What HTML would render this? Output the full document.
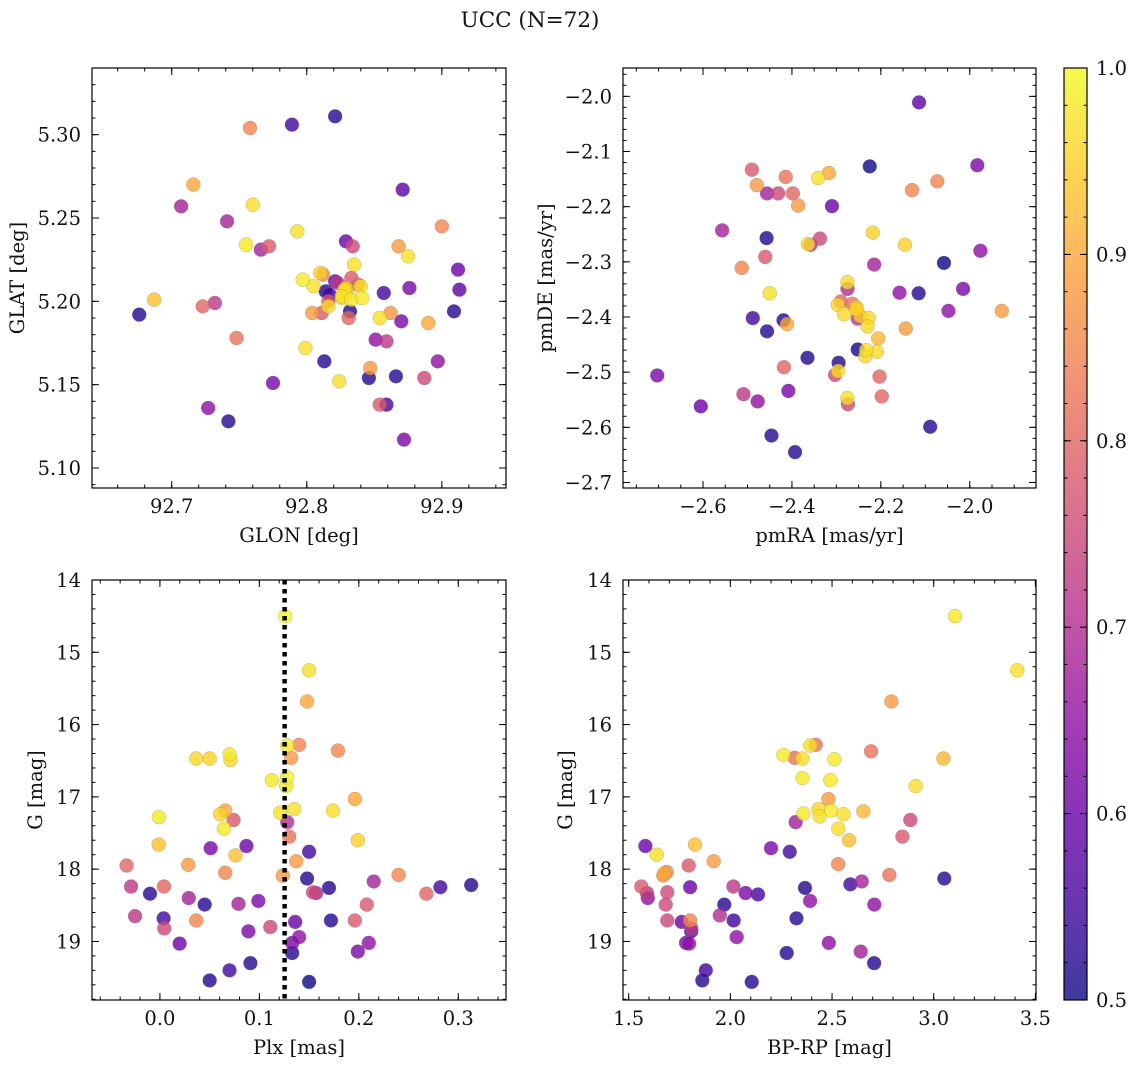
<!DOCTYPE html>
<html><head><meta charset="utf-8">
<style>
html,body{margin:0;padding:0;background:#fff;}
svg{display:block;font-family:"DejaVu Serif","Liberation Serif",serif;}
</style></head>
<body>
<svg id="fig" width="1136" height="1067" viewBox="0 0 1136 1067" xmlns="http://www.w3.org/2000/svg">
<defs>
<linearGradient id="plasma" x1="0" y1="1" x2="0" y2="0">
<stop offset="0" stop-color="#0d0887"/><stop offset="0.1" stop-color="#41049d"/><stop offset="0.2" stop-color="#6a00a8"/><stop offset="0.3" stop-color="#8f0da4"/><stop offset="0.4" stop-color="#b12a90"/><stop offset="0.5" stop-color="#cc4778"/><stop offset="0.6" stop-color="#e16462"/><stop offset="0.7" stop-color="#f2844b"/><stop offset="0.8" stop-color="#fca636"/><stop offset="0.9" stop-color="#fcce25"/><stop offset="1" stop-color="#f0f921"/>
</linearGradient>
</defs>
<text x="530" y="27" text-anchor="middle" font-size="21.5" fill="#111">UCC (N=72)</text>
</svg>
<script>
// Panel 1: GLON / GLAT
const p1Lon=[92.821,92.789,92.758,92.716,92.707,92.760,92.871,92.741,92.900,92.793,92.755,92.766,92.772,92.829,92.834,92.868,92.875,92.835,92.912,92.913,92.909,92.687,92.676,92.723,92.732,92.748,92.797,92.805,92.810,92.812,92.814,92.823,92.833,92.829,92.826,92.833,92.840,92.841,92.857,92.876,92.817,92.816,92.816,92.811,92.804,92.832,92.831,92.862,92.854,92.870,92.890,92.851,92.859,92.799,92.813,92.897,92.847,92.846,92.866,92.887,92.824,92.775,92.727,92.742,92.859,92.854,92.872,92.821,92.828,92.838,92.826,92.830];
const p1Lat=[5.311,5.306,5.304,5.270,5.257,5.258,5.267,5.248,5.245,5.242,5.234,5.231,5.233,5.236,5.233,5.233,5.227,5.222,5.219,5.207,5.194,5.201,5.192,5.197,5.199,5.178,5.213,5.209,5.217,5.216,5.206,5.211,5.214,5.208,5.202,5.201,5.209,5.202,5.205,5.208,5.204,5.200,5.197,5.193,5.193,5.194,5.190,5.193,5.190,5.188,5.187,5.177,5.176,5.172,5.164,5.164,5.160,5.154,5.155,5.154,5.152,5.151,5.136,5.128,5.138,5.138,5.117,5.212,5.207,5.210,5.203,5.205];
const p1Prob=[0.52,0.55,0.85,0.9,0.68,0.97,0.58,0.68,0.85,0.97,0.98,0.68,0.78,0.6,0.75,0.88,0.97,0.97,0.6,0.58,0.52,0.93,0.52,0.8,0.72,0.82,0.98,0.97,0.95,0.85,0.52,0.72,0.78,0.95,0.97,0.98,0.97,0.98,0.55,0.62,0.55,0.78,0.96,0.78,0.88,0.52,0.8,0.87,0.97,0.62,0.9,0.65,0.72,0.97,0.52,0.65,0.88,0.52,0.52,0.75,0.97,0.62,0.65,0.52,0.55,0.78,0.62,0.6,0.97,0.8,0.97,0.95];
// Panel 2: pmRA / pmDE
const p2RA=[-2.114,-2.225,-1.983,-2.490,-2.317,-2.341,-2.414,-2.479,-2.073,-2.130,-2.456,-2.431,-2.398,-2.386,-2.310,-2.557,-2.457,-2.337,-2.358,-2.364,-2.218,-2.146,-1.976,-2.460,-2.513,-2.215,-2.058,-2.275,-2.275,-2.450,-2.158,-2.115,-2.015,-2.290,-2.297,-2.264,-2.255,-2.283,-2.246,-2.252,-2.227,-2.230,-2.048,-1.928,-2.488,-2.419,-2.411,-2.456,-2.144,-2.206,-2.252,-2.233,-2.209,-2.235,-2.365,-2.295,-2.418,-2.303,-2.296,-2.203,-2.703,-2.509,-2.408,-2.477,-2.274,-2.275,-2.198,-2.605,-2.089,-2.446,-2.393,-2.255];
const p2DE=[-2.011,-2.127,-2.125,-2.133,-2.139,-2.148,-2.146,-2.161,-2.154,-2.170,-2.176,-2.176,-2.176,-2.198,-2.199,-2.243,-2.257,-2.258,-2.269,-2.268,-2.247,-2.269,-2.280,-2.291,-2.311,-2.305,-2.302,-2.337,-2.349,-2.357,-2.356,-2.357,-2.349,-2.372,-2.378,-2.376,-2.382,-2.395,-2.398,-2.403,-2.402,-2.417,-2.389,-2.389,-2.402,-2.406,-2.413,-2.426,-2.421,-2.439,-2.459,-2.460,-2.463,-2.471,-2.474,-2.483,-2.491,-2.505,-2.498,-2.508,-2.506,-2.540,-2.534,-2.553,-2.558,-2.547,-2.544,-2.562,-2.599,-2.615,-2.645,-2.386];
const p2Prob=[0.58,0.5,0.62,0.78,0.9,0.97,0.82,0.88,0.85,0.85,0.68,0.75,0.8,0.88,0.6,0.68,0.52,0.75,0.72,0.96,0.95,0.95,0.65,0.78,0.85,0.68,0.5,0.96,0.7,0.97,0.65,0.52,0.62,0.8,0.96,0.82,0.95,0.96,0.95,0.72,0.96,0.96,0.65,0.88,0.55,0.52,0.9,0.52,0.88,0.92,0.5,0.97,0.96,0.96,0.52,0.52,0.8,0.75,0.97,0.8,0.62,0.72,0.62,0.65,0.75,0.97,0.8,0.6,0.52,0.52,0.52,0.95];
// Panel 3: Plx / G
const p3Plx=[0.126,0.150,0.148,0.128,0.140,0.179,0.132,0.0365,0.050,0.070,0.071,0.1126,0.128,0.127,0.196,-0.001,0.0606,0.0657,0.074,0.121,0.135,0.174,0.128,0.0643,0.130,-0.0013,0.199,0.051,0.087,0.076,0.150,0.137,-0.0335,0.0285,0.0657,0.1236,0.148,0.240,0.215,-0.029,0.004,0.282,0.313,0.170,0.154,0.157,0.268,-0.010,0.029,0.099,0.045,0.079,0.208,-0.025,0.0037,0.0365,0.172,0.196,0.136,0.0044,0.111,0.089,0.140,0.133,0.0198,0.210,0.199,0.133,0.091,0.070,0.050,0.150];
const p3G=[14.50,15.25,15.68,16.29,16.28,16.36,16.46,16.47,16.47,16.41,16.49,16.77,16.73,16.85,17.03,17.28,17.24,17.19,17.32,17.22,17.17,17.19,17.35,17.44,17.55,17.66,17.60,17.71,17.68,17.81,17.76,17.89,17.95,17.94,18.05,18.09,18.13,18.08,18.17,18.24,18.24,18.25,18.22,18.26,18.32,18.33,18.34,18.34,18.40,18.44,18.49,18.48,18.49,18.65,18.68,18.71,18.71,18.71,18.73,18.82,18.80,18.86,18.94,19.02,19.03,19.02,19.14,19.16,19.30,19.40,19.54,19.56];
const p3Prob=[1.0,0.97,0.9,0.98,0.85,0.85,0.88,0.96,0.95,0.98,0.96,0.98,0.99,0.98,0.9,0.98,0.95,0.9,0.78,0.97,0.97,0.97,0.7,0.98,0.82,0.93,0.95,0.62,0.6,0.93,0.55,0.88,0.8,0.88,0.85,0.88,0.52,0.85,0.68,0.72,0.8,0.55,0.52,0.52,0.75,0.68,0.8,0.52,0.68,0.62,0.52,0.68,0.78,0.72,0.55,0.85,0.52,0.78,0.6,0.75,0.75,0.62,0.65,0.62,0.6,0.65,0.62,0.52,0.52,0.55,0.52,0.5];
const plxMean=[0.1254];
// Panel 4: BP-RP / G
const p4Col=[3.105,3.411,2.792,2.420,2.393,2.692,2.261,2.316,2.354,2.511,3.048,2.354,2.492,2.911,2.482,2.359,2.434,2.439,2.495,2.556,2.654,2.321,2.531,2.885,2.584,2.846,1.582,1.826,1.638,2.200,2.292,1.918,1.795,2.530,1.687,1.670,2.782,3.052,1.562,1.802,2.015,2.590,2.646,2.367,1.590,1.594,1.690,2.075,2.136,1.682,1.970,2.392,2.708,1.948,2.016,1.690,1.761,1.802,2.325,1.808,1.807,2.031,1.782,1.797,2.484,2.641,2.277,2.707,1.879,1.862,2.105,1.675];
const p4G=[14.50,15.25,15.68,16.28,16.29,16.37,16.42,16.46,16.47,16.48,16.47,16.74,16.77,16.85,17.03,17.23,17.17,17.27,17.19,17.24,17.20,17.35,17.44,17.32,17.60,17.55,17.68,17.66,17.80,17.71,17.76,17.89,17.95,17.93,18.04,18.09,18.08,18.13,18.24,18.25,18.24,18.21,18.17,18.26,18.33,18.40,18.32,18.33,18.35,18.49,18.49,18.44,18.49,18.64,18.71,18.71,18.73,18.71,18.68,18.82,18.86,18.94,19.02,19.03,19.02,19.14,19.16,19.30,19.40,19.54,19.56,18.06];
const p4Prob=[0.98,0.97,0.88,0.82,0.97,0.82,0.98,0.82,0.97,0.98,0.92,0.98,0.98,0.97,0.88,0.98,0.96,0.97,0.98,0.97,0.92,0.68,0.97,0.75,0.93,0.78,0.6,0.93,0.97,0.62,0.55,0.88,0.78,0.85,0.85,0.88,0.82,0.52,0.78,0.6,0.72,0.55,0.68,0.52,0.72,0.65,0.75,0.62,0.55,0.75,0.52,0.65,0.65,0.7,0.55,0.75,0.6,0.85,0.52,0.72,0.55,0.65,0.62,0.65,0.65,0.68,0.52,0.52,0.55,0.52,0.52,0.9];
// colorbar ticks
const cbTicks=[0.5,0.6,0.7,0.8,0.9,1.0];

const NS="http://www.w3.org/2000/svg";
const svg=document.getElementById('fig');
const FS=19.5;
const stops=[[0,[13,8,135]],[0.1,[65,4,157]],[0.2,[106,0,168]],[0.3,[143,13,164]],[0.4,[177,42,144]],[0.5,[204,71,120]],[0.6,[225,100,98]],[0.7,[242,132,75]],[0.8,[252,166,54]],[0.9,[252,206,37]],[1,[240,249,33]]];
function plasma(t){t=Math.max(0,Math.min(1,t));for(let i=1;i<stops.length;i++){if(t<=stops[i][0]){const a=stops[i-1],b=stops[i];const f=(t-a[0])/(b[0]-a[0]);const c=a[1].map((v,k)=>Math.round(v+(b[1][k]-v)*f));return `rgb(${c[0]},${c[1]},${c[2]})`;}}return 'rgb(240,249,33)';}
function mk(tag,attrs,parent){const e=document.createElementNS(NS,tag);for(const k in attrs)e.setAttribute(k,attrs[k]);(parent||svg).appendChild(e);return e;}
function lin(d0,d1,r0,r1){return v=>r0+(v-d0)/(d1-d0)*(r1-r0);}
function fmt(v,d){const s=Math.abs(v).toFixed(d);return (v<-1e-9?'\u2212':'')+s;}

function panel(cfg){
  const g=mk('g',{});
  
  
  const sx=lin(cfg.xd[0],cfg.xd[1],cfg.x0,cfg.x1), sy=lin(cfg.yd[0],cfg.yd[1],cfg.y1,cfg.y0);
  const idx=cfg.xs.map((_,i)=>i).sort((a,b)=>cfg.ps[a]-cfg.ps[b]);
  const pg=mk('g',{},g);
  
  
  idx.forEach(i=>{
    const c=mk('circle',{cx:sx(cfg.xs[i]),cy:sy(cfg.ys[i]),r:7,fill:plasma((cfg.ps[i]-0.5)/0.5),'fill-opacity':0.8,stroke:'#777','stroke-width':0.4,'stroke-opacity':0.6},pg);
    
    
  });
  if(cfg.vline!==undefined){
    const l=mk('line',{x1:sx(cfg.vline),x2:sx(cfg.vline),y1:cfg.y0,y2:cfg.y1,stroke:'#000','stroke-width':4.5,'stroke-dasharray':'4.5 4.5'},g);
    
    
  }
  const fr=mk('rect',{x:cfg.x0,y:cfg.y0,width:cfg.x1-cfg.x0,height:cfg.y1-cfg.y0,fill:'none',stroke:'#000','stroke-width':1.2},g);
  
  
  const tg=mk('g',{stroke:'#000','stroke-width':1},g);
  
  
  const eps=1e-9;
  for(let v=Math.ceil(cfg.xd[0]/cfg.xm-eps)*cfg.xm; v<=cfg.xd[1]+eps; v+=cfg.xm){const X=sx(v);mk('line',{x1:X,x2:X,y1:cfg.y1,y2:cfg.y1-3.5},tg);mk('line',{x1:X,x2:X,y1:cfg.y0,y2:cfg.y0+3.5},tg);}
  const ylo=Math.min(cfg.yd[0],cfg.yd[1]), yhi=Math.max(cfg.yd[0],cfg.yd[1]);
  for(let v=Math.ceil(ylo/cfg.ym-eps)*cfg.ym; v<=yhi+eps; v+=cfg.ym){const Y=sy(v);mk('line',{x1:cfg.x0,x2:cfg.x0+3.5,y1:Y,y2:Y},tg);mk('line',{x1:cfg.x1,x2:cfg.x1-3.5,y1:Y,y2:Y},tg);}
  cfg.xt.forEach(v=>{const X=sx(v);mk('line',{x1:X,x2:X,y1:cfg.y1,y2:cfg.y1-7},tg);mk('line',{x1:X,x2:X,y1:cfg.y0,y2:cfg.y0+7},tg);
    const t=mk('text',{x:X,y:cfg.y1+25,'text-anchor':'middle','font-size':FS,fill:'#111'},g);t.textContent=fmt(v,cfg.xdec);
    
    });
  cfg.yt.forEach(v=>{const Y=sy(v);mk('line',{x1:cfg.x0,x2:cfg.x0+7,y1:Y,y2:Y},tg);mk('line',{x1:cfg.x1,x2:cfg.x1-7,y1:Y,y2:Y},tg);
    const t=mk('text',{x:cfg.x0-11,y:Y+7,'text-anchor':'end','font-size':FS,fill:'#111'},g);t.textContent=fmt(v,cfg.ydec);
    
    });
  const xl=mk('text',{x:(cfg.x0+cfg.x1)/2,y:cfg.y1+54,'text-anchor':'middle','font-size':FS,fill:'#111'},g);xl.textContent=cfg.xlab;
  
  
  const yl=mk('text',{x:0,y:0,'text-anchor':'middle','font-size':FS,fill:'#111',transform:`translate(${cfg.ylx},${(cfg.y0+cfg.y1)/2}) rotate(-90)`},g);yl.textContent=cfg.ylab;
  
  
}
panel({name:'glon-glat-panel',x0:92,x1:506,y0:68,y1:488,xd:[92.641,92.9475],yd:[5.088,5.340],xs:p1Lon,ys:p1Lat,ps:p1Prob,xt:[92.7,92.8,92.9],yt:[5.10,5.15,5.20,5.25,5.30],xm:0.02,ym:0.01,xdec:1,ydec:2,xlab:'GLON [deg]',ylab:'GLAT [deg]',ylx:24});
panel({name:'proper-motion-panel',x0:623,x1:1036,y0:68,y1:488,xd:[-2.780,-1.851],yd:[-2.710,-1.9486],xs:p2RA,ys:p2DE,ps:p2Prob,xt:[-2.6,-2.4,-2.2,-2.0],yt:[-2.7,-2.6,-2.5,-2.4,-2.3,-2.2,-2.1,-2.0],xm:0.05,ym:0.02,xdec:1,ydec:1,xlab:'pmRA [mas/yr]',ylab:'pmDE [mas/yr]',ylx:552});
panel({name:'parallax-magnitude-panel',x0:92,x1:506,y0:580,y1:1000,xd:[-0.0683,0.348],yd:[19.81,14.0],xs:p3Plx,ys:p3G,ps:p3Prob,xt:[0.0,0.1,0.2,0.3],yt:[14,15,16,17,18,19],xm:0.02,ym:0.2,xdec:1,ydec:0,xlab:'Plx [mas]',ylab:'G [mag]',ylx:42,vline:plxMean[0]});
panel({name:'cmd-panel',x0:623,x1:1036,y0:580,y1:1000,xd:[1.472,3.503],yd:[19.81,14.0],xs:p4Col,ys:p4G,ps:p4Prob,xt:[1.5,2.0,2.5,3.0,3.5],yt:[14,15,16,17,18,19],xm:0.1,ym:0.2,xdec:1,ydec:0,xlab:'BP-RP [mag]',ylab:'G [mag]',ylx:572});

// colorbar
const cb=mk('g',{});


const cbX=1064,cbW=23,cbT=68,cbB=1000;
mk('rect',{x:cbX,y:cbT,width:cbW,height:cbB-cbT,fill:'url(#plasma)','fill-opacity':0.8},cb);
mk('rect',{x:cbX,y:cbT,width:cbW,height:cbB-cbT,fill:'none',stroke:'#000','stroke-width':1.2},cb);
const cs=lin(0.5,1.0,cbB,cbT);
for(let v=0.5;v<=1.0001;v+=0.02){const Y=cs(v);mk('line',{x1:cbX+cbW,x2:cbX+cbW-3.5,y1:Y,y2:Y,stroke:'#000'},cb);mk('line',{x1:cbX,x2:cbX+3.5,y1:Y,y2:Y,stroke:'#000'},cb);}
cbTicks.forEach(v=>{const Y=cs(v);mk('line',{x1:cbX+cbW,x2:cbX+cbW-7,y1:Y,y2:Y,stroke:'#000'},cb);mk('line',{x1:cbX,x2:cbX+7,y1:Y,y2:Y,stroke:'#000'},cb);
  const t=mk('text',{x:cbX+cbW+9,y:Y+7,'font-size':FS,fill:'#111'},cb);t.textContent=v.toFixed(1);
  
  });
</script>
</body></html>
